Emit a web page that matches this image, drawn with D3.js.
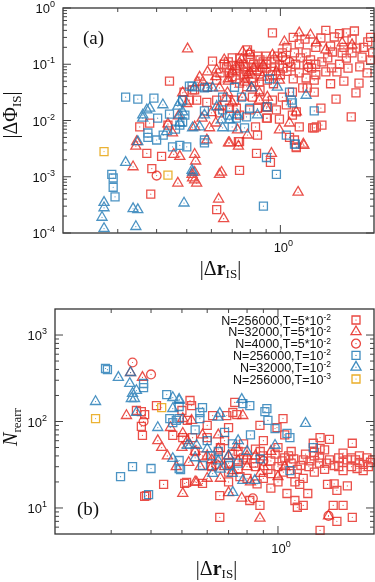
<!DOCTYPE html>
<html>
<head>
<meta charset="utf-8">
<script src="https://cdn.jsdelivr.net/npm/d3@7"></script>
<style>
body { margin: 0; background: #fff; }
svg { display: block; }
</style>
</head>
<body>
<div id="chart"></div>
<script>
// ---- panel (a): |dPhi_IS| vs |dr_IS| ----
var aRedSquares = [
  [0.44,0.05],[0.49,0.032],[0.53,0.035],[0.353,0.0077],[0.38,0.009],[0.435,0.0083],[0.372,0.0026],[0.415,0.0023],
  [0.386,0.0014],[0.383,0.00049],[0.733,0.0042],[0.838,0.0026],[0.929,0.0018],[0.739,0.0013],[0.624,0.00026],[1.125,0.0033],
  [0.943,0.36],[1.35,0.293],[1.49,0.305],[1.63,0.36],[1.73,0.39],[1.91,0.25],[1.76,0.194],[1.83,0.134],[1.98,0.159],
  [1.70,0.159],[1.58,0.159],[1.47,0.165],[1.21,0.159],[1.11,0.159],[1.015,0.159],[1.36,0.11],[1.63,0.129],[1.46,0.086],
  [1.40,0.073],[1.52,0.073],[1.285,0.052],[1.21,0.057],[1.18,0.038],[1.79,0.046],[1.75,0.031],[1.51,0.024],[1.35,0.0166],
  [1.69,0.0116],[1.36,0.0083],[1.285,0.0074],[1.305,0.0077],[1.125,0.0142],[0.993,0.0106],[0.908,0.011],[0.832,0.0077],
  [0.605,0.114],[0.671,0.086],[0.686,0.07],[0.844,0.14],[0.784,0.18],[0.808,0.089],[0.838,0.079],[0.875,0.089],[0.943,0.065],
  [0.993,0.097],[0.908,0.052],[0.856,0.048],[0.813,0.057],[0.767,0.059],[0.722,0.073],[0.739,0.046],[0.624,0.052],[0.583,0.039],
  [0.522,0.035],[0.51,0.023],[0.538,0.023],[0.58,0.021],[0.624,0.023],[0.637,0.0137],[0.686,0.0165],[0.722,0.0165],[0.739,0.0125],
  [0.796,0.0154],[0.844,0.0165],[0.902,0.0174],[0.902,0.011],[0.971,0.0154],[1.045,0.019],[1.093,0.0125],[1.15,0.0077],
  [1.22,0.038],[1.285,0.032],[1.093,0.032],[1.015,0.026],[0.943,0.023],[0.813,0.026],[0.712,0.023],[1.07,0.005],[1.11,0.0045],
  [1.125,0.0034],[1.27,0.0074],[0.844,0.0055],[0.739,0.0042],
  [1.05,0.2],[1.15,0.23],[1.3,0.2],[1.45,0.21],[1.6,0.2],[1.85,0.2],[1.95,0.12],[1.8,0.09],[1.65,0.085],[1.55,0.1],
  [1.42,0.13],[1.25,0.12],[1.12,0.1],[1.05,0.075],[0.96,0.12],[0.9,0.14],[0.88,0.11],[0.8,0.12],[0.76,0.1],[0.7,0.13],
  [0.66,0.1],[0.72,0.055],[0.78,0.04],[0.86,0.035],[0.95,0.045],[1.1,0.055],[1.3,0.065],[1.45,0.045],[1.6,0.05],[1.9,0.07],
  [1.95,0.3],[1.7,0.28],[1.55,0.35],[1.2,0.28],[1.4,0.4],[1.1,0.3],
  [0.74,0.085],[0.78,0.075],[0.82,0.1],[0.86,0.075],[0.9,0.085],[0.96,0.09],[1.0,0.065],[0.7,0.06],[0.76,0.065],[0.82,0.048],
  [0.68,0.11],[0.74,0.13],[0.8,0.15],[0.86,0.12],[0.9,0.1],[0.98,0.14],[1.04,0.12],[1.08,0.09],[1.16,0.13],[1.22,0.1],
  [1.26,0.085],[0.7,0.095],[0.64,0.07],[0.77,0.09],[0.93,0.075],[1.02,0.085],[1.15,0.07],[1.3,0.1]
];
var aRedTriangles = [
  [0.503,0.187],[0.345,0.0042],[0.343,0.0035],[0.454,0.0025],[0.475,0.0023],[0.336,0.0015],[0.468,0.00077],[0.52,0.0011],
  [0.53,0.00088],[0.936,0.0026],[0.733,0.0035],[0.647,0.0012],[0.637,0.0011],[1.14,0.00053],[0.633,0.0004],[0.657,0.00018],
  [0.681,0.004],[0.53,0.0025],[0.534,0.0019],[0.53,0.0012],[0.522,0.00095],[0.538,0.00077],[1.185,0.0038],
  [1.15,0.36],[1.25,0.33],[1.03,0.25],[1.58,0.239],[1.70,0.22],[1.305,0.239],[1.40,0.18],[0.756,0.165],[0.796,0.159],
  [0.943,0.146],[0.739,0.105],[0.624,0.079],[0.583,0.073],[0.55,0.059],[0.542,0.048],[0.563,0.048],[0.875,0.059],[0.993,0.052],
  [0.971,0.073],[0.784,0.065],[0.767,0.048],[0.808,0.038],[0.856,0.031],[0.756,0.026],[0.676,0.031],[0.637,0.038],[0.671,0.025],
  [0.60,0.0137],[0.637,0.0174],[0.70,0.0205],[0.856,0.023],[0.908,0.026],[0.902,0.0165],[1.07,0.009],[1.125,0.0142],[1.19,0.0036],
  [0.993,0.0068],[0.784,0.0055],[0.728,0.0068],[0.686,0.004],[0.53,0.0077],[0.592,0.0074],[0.58,0.0045],[0.485,0.031],
  [0.435,0.0087],[0.5,0.02],[0.47,0.012],[0.56,0.011],[0.45,0.006],[0.62,0.009],[0.72,0.09],[0.8,0.07],[0.68,0.05],
  [0.66,0.12],[0.7,0.075],[0.75,0.12],[0.82,0.085],[0.88,0.095],[0.62,0.06],[0.68,0.055]
];
var aRedCircles = [[0.40,0.00105],[1.015,0.134],[1.23,0.089],[1.07,0.11]];
var aBlueSquares = [
  [0.318,0.026],[0.348,0.024],[0.392,0.025],[0.52,0.041],[0.403,0.011],[0.375,0.006],[0.375,0.005],[0.45,0.0034],
  [0.475,0.0036],[0.50,0.0034],[0.287,0.0011],[0.29,0.00095],[0.29,0.00065],[0.294,0.00044],[0.902,0.0022],[0.971,0.0011],
  [0.882,0.0003],[1.117,0.0038],[0.57,0.004],
  [0.922,0.055],[0.712,0.039],[0.652,0.026],[0.75,0.026],[0.57,0.038],[0.51,0.041],[1.07,0.032],[1.085,0.023],[1.093,0.0205],
  [0.908,0.0174],[0.796,0.0165],[0.778,0.0116],[0.722,0.011],[0.686,0.0125],[0.652,0.0154],[0.485,0.023],[0.493,0.0125],
  [0.485,0.0094],[0.475,0.0083],[0.57,0.0148],[0.70,0.0077],[0.767,0.0074],[1.285,0.0148],[1.045,0.0055],[1.11,0.0038],
  [0.57,0.0045],[0.44,0.013],[0.46,0.007],[0.42,0.0055],[0.40,0.0045]
];
var aBlueTriangles = [
  [0.38,0.0165],[0.372,0.0154],[0.419,0.019],[0.361,0.0125],[0.468,0.018],[0.348,0.0042],[0.318,0.0018],[0.271,0.00035],
  [0.271,0.00028],[0.267,0.00019],[0.271,0.00012],[0.336,0.00027],[0.348,0.00026],[0.343,0.00013],[0.49,0.00034],[0.52,0.0013],
  [0.522,0.0012],[0.978,0.039],[1.21,0.028],[0.808,0.038],[0.605,0.038],[0.58,0.038],[0.53,0.038],[0.624,0.0174],[0.57,0.0125],
  [0.647,0.0102],[0.686,0.0102],[0.728,0.0125],[0.844,0.0125],[0.55,0.0077],[0.522,0.0074],[0.652,0.0074],[0.475,0.021],
  [0.485,0.0142],[0.475,0.0125],[0.361,0.011],[0.43,0.0063],[0.475,0.009]
];
var aOrangeSquares = [[0.271,0.0028],[0.435,0.00107]];

// ---- panel (b): N_rearr vs |dr_IS| ----
var bRedSquares = [
  [0.416,153],[0.36,134],[0.373,130],[0.382,120],[0.53,175],[0.536,153],[0.50,134],[0.373,88],[0.468,69],[0.503,65],[0.54,65],
  [0.376,69],[0.438,18.7],[0.51,19.2],[0.517,19.8],[0.382,13.6],[0.387,13.9],
  [0.624,117],[0.691,117],[0.732,166],[0.722,127],[0.743,120],[0.878,90],[0.993,85],[1.037,108],[1.355,65],[1.45,62],
  [0.6,65],[0.52,103],[1.71,56],[1.29,56],[1.355,49],[0.58,19.2],[0.657,13.9],[0.816,12.2],[0.878,10.7],[0.657,7.8],
  [1.355,5.5],[1.49,10.7],[1.6,10.7],[1.71,7.8],[1.53,7.0],[1.067,14.7],[1.13,12.2],[1.2,10.7],[1.15,10.2],[1.17,18.7],
  [1.24,14.7],[1.43,18.7],[1.53,16],[1.65,18],[1.5,19],[1.95,33.6],[1.85,32],[1.8,33.6],[1.77,28.6],[1.7,30],[1.6,33.6],
  [0.9,40],[0.95,35],[1.0,30],[1.05,38],[1.1,33],[1.15,28],[1.2,36],[1.25,30],[1.3,40],[1.35,33],[1.4,28],[1.45,36],
  [1.5,31],[1.55,38],[1.65,36],[1.75,36],[1.9,38],[1.85,27],[1.6,27],[1.3,26],[1.1,25],[0.95,25],[0.85,30],[0.8,36],
  [0.75,28],[0.7,33],[0.65,38],[0.62,30],[0.58,40],[0.55,45],[0.75,45],[0.85,48],[1.0,50],[0.9,22],[1.2,22],[1.0,20],
  [0.8,22],[0.7,20],[0.95,17],[1.3,44],[1.6,43],[1.1,45],[1.4,47],[0.68,60],[0.78,55],[0.9,60],[1.05,70],[0.6,90],[0.7,85],
  [0.66,50],[0.72,42],[0.78,38],[0.84,33],[0.88,45],[0.93,28],[0.98,42],[1.03,35],[1.08,40],[1.12,37],[1.18,31],[1.22,42],
  [0.7,26],[0.76,23],[0.86,19],[1.04,26],[1.13,20],[1.26,35],[1.35,38],[1.42,33],[1.55,30],[1.7,38],[1.8,40],[1.92,30],[1.98,36]
];
var bRedTriangles = [
  [0.345,368],[0.376,323],[0.335,117],[0.503,108],[0.536,103],[0.432,50],[0.525,33.6],[0.556,19.8],[0.503,14.7],[0.503,73],
  [0.878,7.6],[0.776,117],[1.44,8.1],[0.55,45],[0.6,40],[0.62,30],[0.65,48],[0.7,40],[0.72,27],[0.75,35],[0.8,30],[0.82,20],
  [0.85,40],[0.88,25],[0.6,22],[0.55,20],[0.45,40],[0.48,30],[0.5,50],[0.52,60],[0.42,60],[0.46,85],[0.58,70],[0.65,70],
  [0.95,45],[1.0,23],[0.7,15],[0.77,13],[1.05,30],[0.68,30],[0.74,50],[0.8,40],[0.9,30],[0.62,36],[0.57,30],[0.66,22]
];
var bRedCircles = [[0.35,481],[0.40,350],[0.379,100],[1.44,8.1],[0.834,12.9],[0.64,32],[0.9,35]];
var bBlueSquares = [
  [0.288,410],[0.292,398],[0.379,275],[0.379,247],[0.448,205],[0.49,149],[0.458,108],[0.468,97],[0.48,103],[0.49,35.4],
  [0.495,27.8],[0.35,30],[0.40,28.6],[0.321,23],[0.393,14.3],[0.58,145],[0.569,127],[0.776,161],[0.816,153],[0.923,141],
  [0.91,130],[0.93,103],[0.979,83],[1.067,73],[1.09,65],[0.49,108],[0.569,108],[1.29,50],[0.58,31],[0.49,28.6],[0.706,31],
  [1.09,27],[0.6,60],[0.65,45],[0.72,55],[0.68,75],[0.82,70],[0.55,80],[0.62,40],[0.75,33],[0.88,37]
];
var bBlueTriangles = [
  [0.345,368],[0.316,323],[0.343,275],[0.35,211],[0.36,228],[0.347,184],[0.355,184],[0.268,170],[0.36,127],[0.468,189],
  [0.49,175],[0.468,141],[0.42,85],[0.468,37.3],[0.52,53],[0.556,53],[0.49,180],[0.657,124],[0.648,112],[0.77,180],[1.22,95],
  [0.53,53],[0.624,25],[0.776,20.8],[0.846,20.8],[0.722,15.1],[0.979,53],[0.6,48],[0.7,40],[0.65,35],[0.75,60],[0.8,45],
  [0.66,28],[0.72,25],[0.55,38]
];
var bOrangeSquares = [[0.268,108],[0.432,145]];

// legend
var legendLabels = ["N=256000,T=5*10", "N=32000,T=5*10", "N=4000,T=5*10", "N=256000,T=10", "N=32000,T=10", "N=256000,T=10"];
var legendExps = ["-2", "-2", "-2", "-2", "-2", "-3"];
var seriesColors = ["#e5251d", "#e5251d", "#e5251d", "#1f78b4", "#1f78b4", "#e69f00"];
var seriesShapes = ["square", "triangle", "circle", "square", "triangle", "square"];

// axes
var xMajor = [1], xMajorExp = ["0"];
var xMinor = [0.3, 0.4, 0.5, 0.6, 0.7, 0.8, 0.9];
var yaMajor = [1e-4, 1e-3, 1e-2, 1e-1, 1], yaMajorExp = ["-4", "-3", "-2", "-1", "0"];
var ybMajor = [10, 100, 1000], ybMajorExp = ["1", "2", "3"];

var width = 375, height = 582;
var svg = d3.select("#chart").append("svg")
    .attr("width", width)
    .attr("height", height);

var sansFont = "'Liberation Sans', Arial, sans-serif";
var serifFont = "'Liberation Serif', 'Times New Roman', serif";

var symbolGen = {
  square: d3.symbol().type(d3.symbolSquare).size(64)(),
  triangle: d3.symbol().type(d3.symbolTriangle).size(44)(),
  circle: d3.symbol().type(d3.symbolCircle).size(62)()
};

function minorTicks(domain) {
  // 2..9 inside each decade of the domain
  var out = [];
  var lo = Math.floor(Math.log10(domain[0])), hi = Math.ceil(Math.log10(domain[1]));
  for (var k = lo; k < hi; k++) {
    for (var m = 2; m < 10; m++) {
      var v = m * Math.pow(10, k);
      if (v > domain[0] && v < domain[1]) out.push(v);
    }
  }
  return out;
}

function drawPanel(p) {
  var g = svg.append("g");
  var x = d3.scaleLog().domain([0.2, 2]).range([p.left, p.right]);
  var y = d3.scaleLog().domain(p.yDomain).range([p.bottom, p.top]);

  // points
  p.series.forEach(function(s, i) {
    var grp = g.append("g")
        .attr("stroke", seriesColors[i])
        .attr("fill", "none")
        .attr("stroke-width", 1.3)
        .attr("opacity", 0.8);
    grp.selectAll("path")
      .data(s)
      .enter()
      .append("path")
      .attr("d", symbolGen[seriesShapes[i]])
      .attr("transform", function(d) { return "translate(" + x(d[0]) + "," + y(d[1]) + ")"; });
    grp.selectAll("circle")
      .data(s)
      .enter()
      .append("circle")
      .attr("cx", function(d) { return x(d[0]); })
      .attr("cy", function(d) { return y(d[1]); })
      .attr("r", 0.6)
      .attr("fill", seriesColors[i])
      .attr("stroke", "none");
  });

  // frame
  g.append("rect")
    .attr("x", p.left).attr("y", p.top)
    .attr("width", p.right - p.left).attr("height", p.bottom - p.top)
    .attr("fill", "none").attr("stroke", "#333").attr("stroke-width", 1.3);

  var tk = g.append("g").attr("stroke", "#444").attr("stroke-width", 1);
  // x ticks (bottom and top)
  xMinor.forEach(function(v) {
    tk.append("line").attr("x1", x(v)).attr("x2", x(v)).attr("y1", p.bottom).attr("y2", p.bottom - 4);
    tk.append("line").attr("x1", x(v)).attr("x2", x(v)).attr("y1", p.top).attr("y2", p.top + 4);
  });
  xMajor.forEach(function(v) {
    tk.append("line").attr("x1", x(v)).attr("x2", x(v)).attr("y1", p.bottom).attr("y2", p.bottom - 8);
    tk.append("line").attr("x1", x(v)).attr("x2", x(v)).attr("y1", p.top).attr("y2", p.top + 8);
  });
  // y ticks (left and right)
  minorTicks(p.yDomain).forEach(function(v) {
    tk.append("line").attr("x1", p.left).attr("x2", p.left + 4).attr("y1", y(v)).attr("y2", y(v));
    tk.append("line").attr("x1", p.right).attr("x2", p.right - 4).attr("y1", y(v)).attr("y2", y(v));
  });
  p.yMajor.forEach(function(v) {
    tk.append("line").attr("x1", p.left).attr("x2", p.left + 8).attr("y1", y(v)).attr("y2", y(v));
    tk.append("line").attr("x1", p.right).attr("x2", p.right - 8).attr("y1", y(v)).attr("y2", y(v));
  });

  // tick labels
  p.yMajor.forEach(function(v, i) {
    var t = g.append("text")
      .attr("x", p.left - 8).attr("y", y(v) + 5)
      .attr("text-anchor", "end")
      .attr("font-family", sansFont).attr("font-size", 13).attr("fill", "#111");
    t.append("tspan").text("10");
    t.append("tspan").attr("dy", -6).attr("font-size", 9).text(p.yMajorExp[i]);
  });
  xMajor.forEach(function(v, i) {
    var t = g.append("text")
      .attr("x", x(v) + 3).attr("y", p.bottom + 19)
      .attr("text-anchor", "middle")
      .attr("font-family", sansFont).attr("font-size", 13).attr("fill", "#111");
    t.append("tspan").text("10");
    t.append("tspan").attr("dy", -6).attr("font-size", 9).text(xMajorExp[i]);
  });

  // x title |Δr_IS|
  var xt = g.append("text")
    .attr("x", (p.left + p.right) / 2 + 2).attr("y", p.xTitleY)
    .attr("text-anchor", "middle")
    .attr("font-family", serifFont).attr("font-size", 20).attr("fill", "#111");
  xt.append("tspan").text("|Δ");
  xt.append("tspan").attr("font-weight", "bold").text("r");
  xt.append("tspan").attr("dy", 3).attr("font-size", 13).text("IS");
  xt.append("tspan").attr("dy", -3).text("|");

  // panel tag
  g.append("text")
    .attr("x", p.tagX).attr("y", p.tagY)
    .attr("font-family", serifFont).attr("font-size", 19).attr("fill", "#111")
    .text(p.tag);

  return { x: x, y: y, g: g };
}

var pa = drawPanel({
  left: 63, right: 374, top: 8, bottom: 233,
  yDomain: [1e-4, 1], yMajor: yaMajor, yMajorExp: yaMajorExp,
  series: [aRedSquares, aRedTriangles, aRedCircles, aBlueSquares, aBlueTriangles, aOrangeSquares],
  tag: "(a)", tagX: 83, tagY: 44, xTitleY: 275
});

var pb = drawPanel({
  left: 55, right: 374, top: 309, bottom: 534,
  yDomain: [5, 2000], yMajor: ybMajor, yMajorExp: ybMajorExp,
  series: [bRedSquares, bRedTriangles, bRedCircles, bBlueSquares, bBlueTriangles, bOrangeSquares],
  tag: "(b)", tagX: 77, tagY: 515, xTitleY: 575
});

// y titles
var yta = svg.append("text")
  .attr("transform", "translate(17,115) rotate(-90)")
  .attr("text-anchor", "middle")
  .attr("font-family", serifFont).attr("font-size", 20).attr("fill", "#111");
yta.append("tspan").text("|ΔΦ");
yta.append("tspan").attr("dy", 4).attr("font-size", 13).text("IS");
yta.append("tspan").attr("dy", -4).text("|");

var ytb = svg.append("text")
  .attr("transform", "translate(17,427) rotate(-90)")
  .attr("text-anchor", "middle")
  .attr("font-family", serifFont).attr("font-size", 20).attr("fill", "#111");
ytb.append("tspan").attr("font-style", "italic").text("N");
ytb.append("tspan").attr("dy", 4).attr("font-size", 13).text("rearr");

// legend in panel (b)
var lg = svg.append("g");
legendLabels.forEach(function(lab, i) {
  var ly = 320 + i * 11.8;
  var t = lg.append("text")
    .attr("x", 331).attr("y", ly + 4.5)
    .attr("text-anchor", "end")
    .attr("font-family", sansFont).attr("font-size", 12.5).attr("fill", "#111");
  t.append("tspan").text(lab);
  t.append("tspan").attr("dy", -4.5).attr("font-size", 8.5).text(legendExps[i]);
  lg.append("path")
    .attr("d", symbolGen[seriesShapes[i]])
    .attr("transform", "translate(356," + ly + ")")
    .attr("fill", "none").attr("stroke", seriesColors[i]).attr("stroke-width", 1.3).attr("opacity", 0.85);
  lg.append("circle").attr("cx", 356).attr("cy", ly).attr("r", 0.6).attr("fill", seriesColors[i]);
});
</script>
</body>
</html>
